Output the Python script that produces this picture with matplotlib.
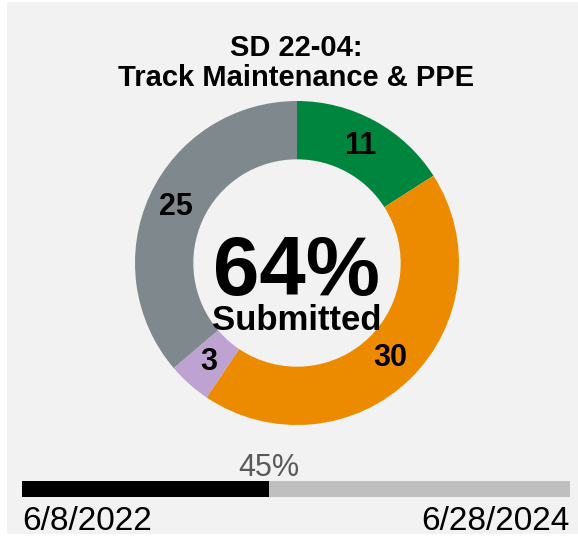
import matplotlib.pyplot as plt
from matplotlib.patches import Rectangle

plt.rcParams['font.family'] = ['Liberation Sans', 'DejaVu Sans']

# data
title = "SD 22-04:\nTrack Maintenance & PPE"
counts = [11, 30, 3, 25]
colors = ["#00853E", "#ED8B00", "#BDA2D2", "#7F898D"]
submitted_pct = 64
time_elapsed = 45
start_date = "6/8/2022"
end_date = "6/28/2024"

W, H = 578, 536


def px(x, y):
    # pixel position (from top-left) to figure fraction
    return x / W, 1 - y / H


fig = plt.figure(figsize=(W / 100, H / 100), dpi=100)
fig.patch.set_facecolor("white")
fig.patches.append(Rectangle(px(7, 534), (W - 7) / W, 532 / H,
                             transform=fig.transFigure, facecolor="#F2F2F2",
                             edgecolor="none", zorder=-10))

# donut
r = 162
ax = fig.add_axes([(297 - r) / W, (H - 263 - r) / H, 2 * r / W, 2 * r / H])
ax.set_facecolor("none")
total = sum(counts)
wedges, texts, autotexts = ax.pie(
    counts, colors=colors, startangle=90, counterclock=False, radius=1,
    wedgeprops=dict(width=0.36, linewidth=0),
    autopct=lambda p: f"{round(p * total / 100)}", pctdistance=0.82,
    textprops=dict(fontsize=22, fontweight="bold", color="black"))
ax.set_xlim(-1, 1)
ax.set_ylim(-1, 1)

fig.text(*px(297, 295), f"{submitted_pct}%", ha="center", va="baseline",
         fontsize=60, fontweight="bold")
fig.text(*px(297, 330), "Submitted", ha="center", va="baseline",
         fontsize=25, fontweight="bold")

# title
fig.text(*px(296, 86), title, ha="center", va="baseline", fontsize=21,
         fontweight="bold", linespacing=1.1, multialignment="center")

# progress bar
bx = fig.add_axes([22 / W, (H - 497) / H, 548 / W, 16 / H])
bx.barh([0], [time_elapsed], color="black", height=1)
bx.barh([0], [100 - time_elapsed], left=[time_elapsed], color="#BFBFBF", height=1)
bx.set_xlim(0, 100)
bx.set_ylim(-0.5, 0.5)
bx.axis("off")

fig.text(*px(22 + 548 * time_elapsed / 100, 476), f"{time_elapsed}%",
         ha="center", va="baseline", fontsize=22, color="#595959")
fig.text(*px(22, 530), start_date, ha="left", va="baseline", fontsize=24)
fig.text(*px(570, 530), end_date, ha="right", va="baseline", fontsize=24)

fig.savefig("out.png", dpi=100)
